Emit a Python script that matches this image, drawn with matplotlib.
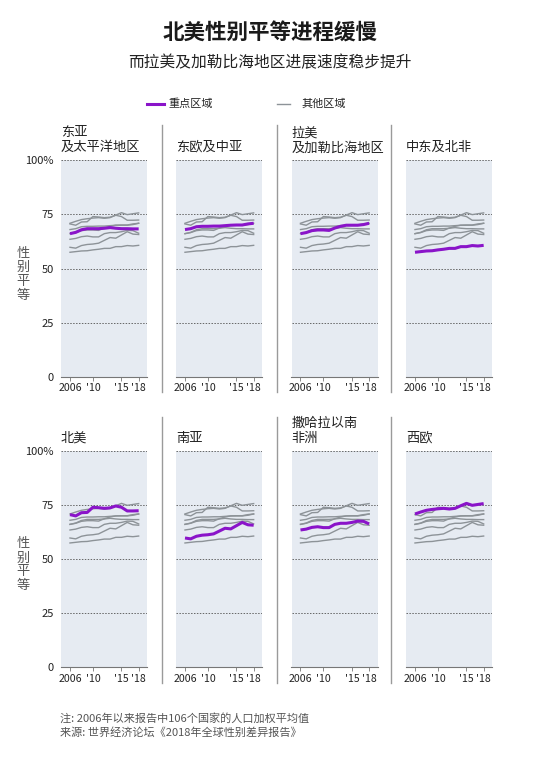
import matplotlib.pyplot as plt

plt.rcParams['font.family'] = ['Noto Sans CJK SC', 'DejaVu Sans']

# data
years = list(range(2006, 2019))
regions = ['东亚\n及太平洋地区', '东欧及中亚', '拉美\n及加勒比海地区', '中东及北非',
           '北美', '南亚', '撒哈拉以南\n非洲', '西欧']

east_asia = [66.1, 66.7, 67.9, 68.4, 68.4, 68.4, 68.6, 68.9, 68.6, 68.4, 68.4, 68.3, 68.3]
east_europe = [68.0, 68.4, 69.3, 69.5, 69.5, 69.6, 69.6, 69.8, 70.0, 70.1, 70.1, 70.6, 70.9]
latin_america = [66.1, 66.6, 67.5, 67.8, 67.8, 67.6, 68.7, 69.5, 70.0, 70.0, 70.0, 70.3, 70.9]
mena = [57.5, 57.8, 58.1, 58.2, 58.6, 58.9, 59.3, 59.3, 60.1, 60.1, 60.6, 60.4, 60.7]
north_america = [70.6, 70.0, 71.5, 71.6, 74.0, 73.8, 73.5, 73.7, 74.6, 74.0, 72.3, 72.3, 72.4]
south_asia = [59.8, 59.4, 60.6, 61.1, 61.3, 61.7, 63.0, 64.3, 64.0, 65.5, 67.0, 65.9, 65.7]
ssa = [63.5, 63.9, 64.7, 65.0, 64.6, 64.6, 66.1, 66.6, 66.6, 67.0, 67.6, 67.5, 66.3]
west_europe = [70.9, 71.8, 72.6, 73.0, 73.3, 73.5, 73.2, 73.5, 74.7, 75.8, 74.9, 75.3, 75.7]

series = [east_asia, east_europe, latin_america, mena,
          north_america, south_asia, ssa, west_europe]

xticks = [2006, 2010, 2015, 2018]
xticklabels = ['2006', "'10", "'15", "'18"]
yticks = [0, 25, 50, 75, 100]
yticklabels = ['0', '25', '50', '75', '100%']

W, H = 540, 764
fig = plt.figure(figsize=(W / 100, H / 100), dpi=100)

purple = '#8a14c9'
grey = '#8d9398'
text_c = '#222222'


def px(x, y):
    return x / W, 1 - y / H


fig.text(*px(270, 33), '北美性别平等进程缓慢', ha='center', va='center',
         fontsize=15.5, fontweight='bold', color='#1a1a1a')
fig.text(*px(270, 63), '而拉美及加勒比海地区进展速度稳步提升', ha='center', va='center',
         fontsize=11.3, color=text_c)

# legend
fig.add_artist(plt.Line2D([147 / W, 164 / W], [1 - 104 / H] * 2, color=purple, lw=2.2))
fig.text(*px(168, 104), '重点区域', ha='left', va='center', fontsize=8, color=text_c)
fig.add_artist(plt.Line2D([277 / W, 290 / W], [1 - 104 / H] * 2, color=grey, lw=1))
fig.text(*px(302, 104), '其他区域', ha='left', va='center', fontsize=8, color=text_c)

lefts = [61, 176, 291.5, 406]
tops = [160.3, 451]
pw, ph = 86.3, 216.4

for i, name in enumerate(regions):
    row, col = divmod(i, 4)
    l, t = lefts[col], tops[row]
    ax = fig.add_axes([l / W, 1 - (t + ph) / H, pw / W, ph / H])
    ax.set_facecolor('#e6ebf2')
    for j, s in enumerate(series):
        if j != i:
            ax.plot(years, s, color=grey, lw=1.0, zorder=2)
    ax.plot(years, series[i], color=purple, lw=2.2, zorder=3, solid_capstyle='butt')
    for v in [25, 50, 75, 100]:
        ax.axhline(v, color='#666666', lw=0.7, ls=(0, (1.5, 1.5)), zorder=1)
    ax.set_xlim(2004.43, 2019.51)
    ax.set_ylim(0, 100)
    for sp in ['top', 'right', 'left']:
        ax.spines[sp].set_visible(False)
    ax.spines['bottom'].set_color('#777777')
    ax.spines['bottom'].set_linewidth(0.8)
    ax.set_xticks(xticks)
    ax.set_xticklabels(xticklabels, fontsize=7.6, color=text_c)
    ax.tick_params(axis='x', length=3, width=0.6, color='#777777', pad=1.5)
    ax.set_yticks(yticks)
    if col == 0:
        ax.set_yticklabels(yticklabels, fontsize=8, color=text_c)
    else:
        ax.set_yticklabels([])
    ax.tick_params(axis='y', length=0, pad=5)
    if '\n' in name:
        fig.text(*px(l, t - 6), name, ha='left', va='bottom',
                 fontsize=9.5, color=text_c, linespacing=1.2)
    else:
        fig.text(*px(l, t - 13), name, ha='left', va='center',
                 fontsize=9.5, color=text_c)

# separators
for sx in [162, 277, 391]:
    fig.add_artist(plt.Line2D([sx / W] * 2, [1 - 125 / H, 1 - 392 / H], color='#9a9a9a', lw=1))
    fig.add_artist(plt.Line2D([sx / W] * 2, [1 - 417 / H, 1 - 683 / H], color='#9a9a9a', lw=1))

# y labels
for yc in [253, 544]:
    for k, ch in enumerate('性别平等'):
        fig.text(*px(23, yc + k * 14), ch, ha='center', va='center', fontsize=9.5, color='#555555')

fig.text(*px(60, 718), '注: 2006年以来报告中106个国家的人口加权平均值', ha='left', va='center',
         fontsize=8, color='#555555')
fig.text(*px(60, 733), '来源: 世界经济论坛《2018年全球性别差异报告》', ha='left', va='center',
         fontsize=8, color='#555555')

fig.savefig('out.png', dpi=100, facecolor='white')
